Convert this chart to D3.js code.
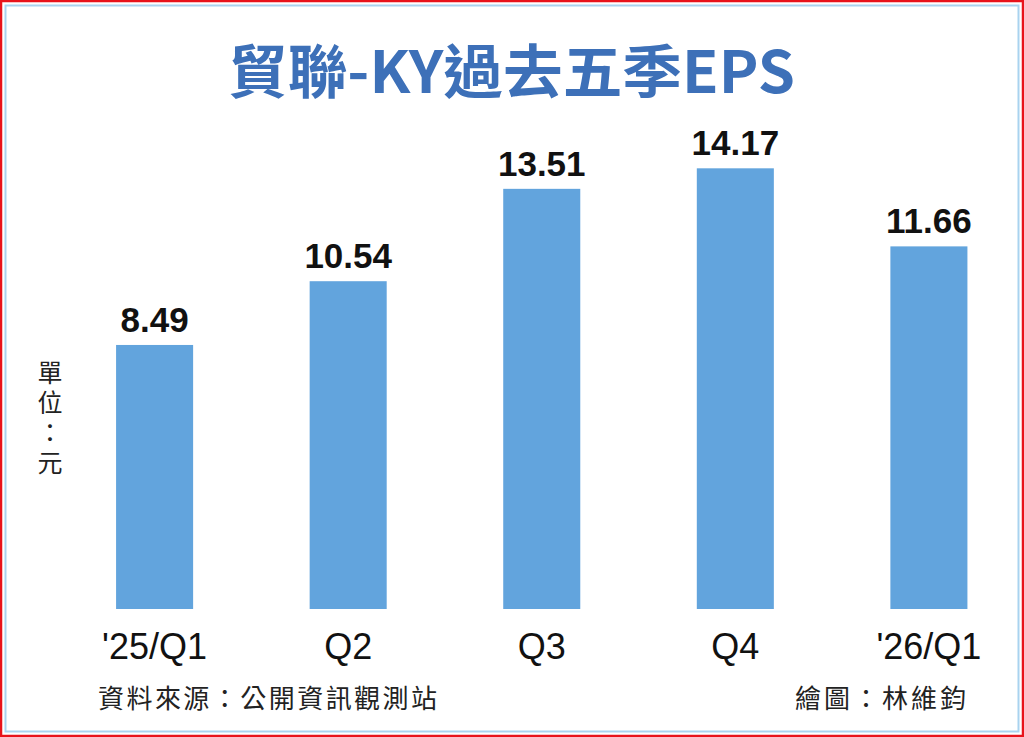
<!DOCTYPE html>
<html>
<head>
<meta charset="utf-8">
<script src="https://cdn.jsdelivr.net/npm/d3@7"></script>
<style>
  html, body { margin: 0; padding: 0; background: #fff; }
  svg { display: block; }
</style>
</head>
<body>
<div id="chart"></div>
<script>
const width = 1024;
const height = 737;

// data
const quarters = ["'25/Q1", "Q2", "Q3", "Q4", "'26/Q1"];
const eps = [8.49, 10.54, 13.51, 14.17, 11.66];
const titleText = "貿聯-KY過去五季EPS";
const unitText = "單位：元";
const sourceText = "資料來源：公開資訊觀測站";
const creditText = "繪圖：林維鈞";

const svg = d3
  .select("#chart")
  .append("svg")
  .attr("width", width)
  .attr("height", height);

svg.append("rect").attr("width", width).attr("height", height).attr("fill", "#fff");

// frame: red outer, light blue inner
svg
  .append("rect")
  .attr("x", 1)
  .attr("y", 1)
  .attr("width", width - 2)
  .attr("height", height - 2)
  .attr("fill", "none")
  .attr("stroke", "#e8131b")
  .attr("stroke-width", 2.5);
svg
  .append("rect")
  .attr("x", 5.5)
  .attr("y", 5.5)
  .attr("width", width - 11)
  .attr("height", height - 11)
  .attr("fill", "none")
  .attr("stroke", "#a9d3ef")
  .attr("stroke-width", 2);

const x = d3
  .scaleBand()
  .domain(quarters)
  .range([58, 1025.5])
  .paddingInner(0.602)
  .paddingOuter(0.3);

const y = d3.scaleLinear().domain([0, 15]).range([609, 142.5]);

svg
  .append("text")
  .attr("x", 228)
  .attr("y", 93)
  .attr("textLength", 567)
  .attr("lengthAdjust", "spacingAndGlyphs")
  .attr("font-family", "'Noto Sans CJK TC', 'Noto Sans', sans-serif")
  .attr("font-weight", 700)
  .attr("font-size", 58)
  .attr("fill", "#3d70b8")
  .text(titleText);

svg
  .selectAll("rect.bar")
  .data(eps)
  .join("rect")
  .attr("class", "bar")
  .attr("x", (d, i) => x(quarters[i]))
  .attr("y", (d) => y(d))
  .attr("width", x.bandwidth())
  .attr("height", (d) => y(0) - y(d))
  .attr("fill", "#62a4dd");

svg
  .selectAll("text.value")
  .data(eps)
  .join("text")
  .attr("class", "value")
  .attr("x", (d, i) => x(quarters[i]) + x.bandwidth() / 2)
  .attr("y", (d) => y(d) - 13)
  .attr("text-anchor", "middle")
  .attr("font-family", "'Liberation Sans', Arial, sans-serif")
  .attr("font-weight", 700)
  .attr("font-size", 35)
  .attr("fill", "#111")
  .text((d) => d.toFixed(2));

svg
  .selectAll("text.cat")
  .data(quarters)
  .join("text")
  .attr("class", "cat")
  .attr("x", (d) => x(d) + x.bandwidth() / 2)
  .attr("y", 659)
  .attr("text-anchor", "middle")
  .attr("font-family", "'Liberation Sans', Arial, sans-serif")
  .attr("font-size", 36)
  .attr("fill", "#111")
  .text((d) => d);

// unit label, written top to bottom
svg
  .append("text")
  .attr("x", 50)
  .attr("y", 360)
  .attr("writing-mode", "vertical-rl")
  .attr("letter-spacing", 5)
  .attr("font-family", "'Noto Sans CJK TC', sans-serif")
  .attr("font-size", 25)
  .attr("fill", "#222")
  .text(unitText);

svg
  .append("text")
  .attr("x", 98)
  .attr("y", 708)
  .attr("textLength", 339)
  .attr("lengthAdjust", "spacing")
  .attr("font-family", "'Noto Sans CJK TC', sans-serif")
  .attr("font-size", 26)
  .attr("fill", "#222")
  .text(sourceText);

svg
  .append("text")
  .attr("x", 795)
  .attr("y", 708)
  .attr("textLength", 171)
  .attr("lengthAdjust", "spacing")
  .attr("font-family", "'Noto Sans CJK TC', sans-serif")
  .attr("font-size", 26)
  .attr("fill", "#222")
  .text(creditText);
</script>
</body>
</html>
